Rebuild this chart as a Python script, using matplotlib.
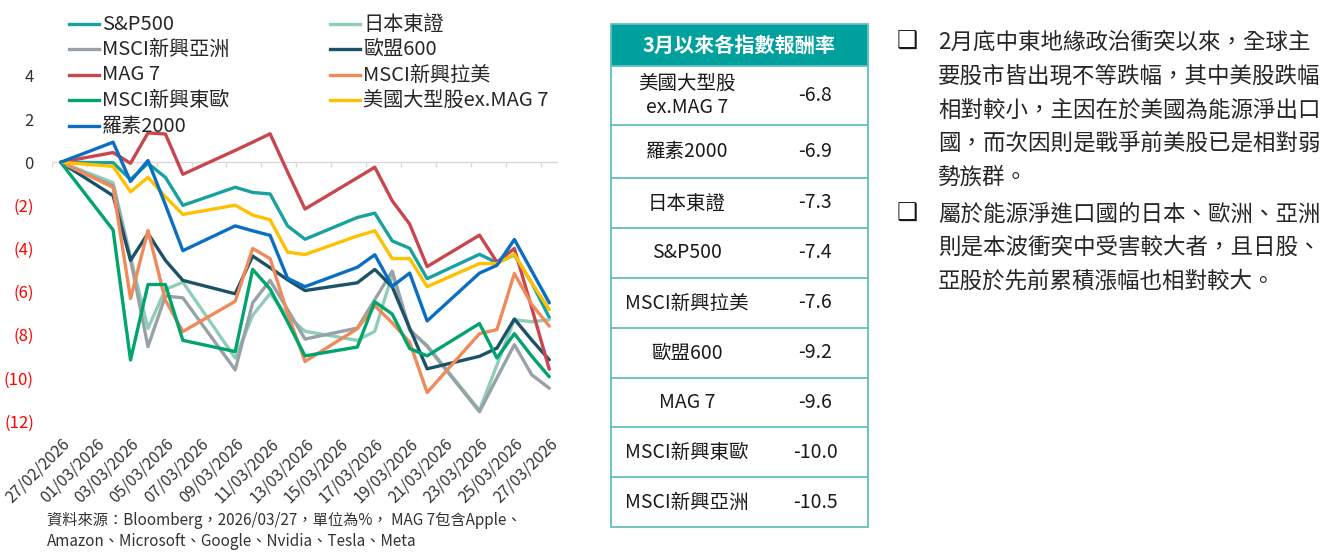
import numpy as np
import matplotlib
matplotlib.use("Agg")
from matplotlib import pyplot as plt
from matplotlib.lines import Line2D
from matplotlib.patches import Rectangle

plt.rcParams['font.family'] = ['Noto Sans CJK TC', 'DejaVu Sans']

# trading days shown in the chart
dates = ["2026-02-27", "2026-03-02", "2026-03-03", "2026-03-04", "2026-03-05",
         "2026-03-06", "2026-03-09", "2026-03-10", "2026-03-11", "2026-03-12",
         "2026-03-13", "2026-03-16", "2026-03-17", "2026-03-18", "2026-03-19",
         "2026-03-20", "2026-03-23", "2026-03-24", "2026-03-25", "2026-03-26",
         "2026-03-27"]

sp500 = [0, -0.02, -0.8, -0.05, -0.7, -2.0, -1.16, -1.4, -1.47, -2.95, -3.57,
         -2.56, -2.36, -3.65, -3.99, -5.4, -4.27, -4.66, -4.3, -5.6, -7.2]
japan = [0, -0.95, -4.4, -7.7, -5.9, -5.56, -9.08, -7.1, -6.09, -7.14, -7.84,
         -8.26, -7.84, -5.2, -7.8, -8.5, -11.5, -9.4, -7.3, -7.4, -7.3]
em_asia = [0, -1.1, -4.5, -8.55, -6.2, -6.29, -9.63, -6.52, -5.48, -6.83, -8.2,
           -7.69, -6.37, -5.05, -7.76, -8.54, -11.57, -10.0, -8.46, -9.86, -10.48]
stoxx600 = [0, -1.55, -4.55, -3.3, -4.55, -5.48, -6.1, -4.35, -4.89, -5.45, -5.95,
            -5.59, -4.97, -5.78, -7.7, -9.58, -9.0, -8.62, -7.27, -8.25, -9.16]
mag7 = [0, 0.45, -0.05, 1.36, 1.31, -0.56, 0.55, 0.93, 1.32, -0.45, -2.17,
        -0.72, -0.23, -1.79, -2.87, -4.84, -3.38, -4.63, -4.0, -6.77, -9.6]
em_latam = [0, -1.16, -6.32, -3.17, -6.4, -7.85, -6.45, -4.0, -4.47, -7.0, -9.24,
            -7.72, -6.65, -7.45, -8.35, -10.68, -7.95, -7.76, -5.16, -6.6, -7.6]
em_eeurope = [0, -3.14, -9.17, -5.67, -5.67, -8.26, -8.78, -4.97, -5.88, -7.4, -8.98,
              -8.57, -6.47, -7.04, -8.64, -8.98, -7.48, -9.08, -7.95, -9.0, -9.95]
us_ex_mag7 = [0, -0.19, -1.37, -0.7, -1.6, -2.42, -1.99, -2.45, -2.67, -4.17, -4.28,
              -3.42, -3.18, -4.47, -4.47, -5.77, -4.7, -4.7, -4.27, -5.6, -6.83]
russell = [0, 0.93, -0.89, 0.08, -1.97, -4.1, -2.95, -3.18, -3.39, -5.38, -5.77,
           -4.87, -4.29, -5.75, -5.14, -7.36, -5.14, -4.78, -3.58, -5.05, -6.52]

series_names = ["S&P500", "日本東證", "MSCI新興亞洲", "歐盟600", "MAG 7",
                "MSCI新興拉美", "MSCI新興東歐", "美國大型股ex.MAG 7", "羅素2000"]
series_values = [sp500, japan, em_asia, stoxx600, mag7,
                 em_latam, em_eeurope, us_ex_mag7, russell]
series_colors = ["#17A2A0", "#8FCDB9", "#97A1A7", "#1B5268", "#C8464D",
                 "#F08A5B", "#00A46C", "#FFC000", "#0A6FC2"]

# table: returns since March
table_names = ["美國大型股\nex.MAG 7", "羅素2000", "日本東證", "S&P500", "MSCI新興拉美",
               "歐盟600", "MAG 7", "MSCI新興東歐", "MSCI新興亞洲"]
table_returns = [-6.8, -6.9, -7.3, -7.4, -7.6, -9.2, -9.6, -10.0, -10.5]
table_title = "3月以來各指數報酬率"

notes = [
    ["2月底中東地緣政治衝突以來，全球主",
     "要股市皆出現不等跌幅，其中美股跌幅",
     "相對較小，主因在於美國為能源淨出口",
     "國，而次因則是戰爭前美股已是相對弱",
     "勢族群。"],
    ["屬於能源淨進口國的日本、歐洲、亞洲",
     "則是本波衝突中受害較大者，且日股、",
     "亞股於先前累積漲幅也相對較大。"],
]
source_text = ("資料來源：Bloomberg，2026/03/27，單位為%， MAG 7包含Apple、\n"
               "Amazon、Microsoft、Google、Nvidia、Tesla、Meta")

W, H = 1331, 552


def fx(x):
    return x / W


def fy(y):
    return 1 - y / H


fig = plt.figure(figsize=(W / 100, H / 100), dpi=100)
ax = fig.add_axes([fx(52), fy(421), fx(558) - fx(52), fy(76) - fy(421)])

start = np.datetime64(dates[0])
days = (np.array(dates, dtype="datetime64[D]") - start).astype(int)

for vals, col in zip(series_values, series_colors):
    ax.plot(days, vals, color=col, lw=2.4, solid_joinstyle="round",
            solid_capstyle="round")

ax.set_xlim(-0.5, 28.5)
ax.set_ylim(-12, 4)
for s in ax.spines.values():
    s.set_visible(False)

# zero line with tick marks every 2 days
ax.axhline(0, color="#D9D9D9", lw=1, zorder=0)
ax.vlines(np.arange(-0.5, 28, 2), -5 / 21.5, 0, color="#D9D9D9", lw=1, zorder=0)

label_days = np.arange(0, 29, 2)
label_dates = start + label_days
tick_labels = [str(d)[8:10] + "/" + str(d)[5:7] + "/" + str(d)[0:4] for d in label_dates]
ax.set_xticks(label_days)
ax.set_xticklabels(tick_labels, rotation=45, ha="right", va="top",
                   rotation_mode="anchor", fontsize=11.5, color="#333333")
ax.tick_params(axis="x", length=0, pad=10)

yt = np.arange(-12, 5, 2)
ax.set_yticks(yt)
ax.set_yticklabels([f"({abs(v)})" if v < 0 else str(v) for v in yt], fontsize=12)
for lab, v in zip(ax.get_yticklabels(), yt):
    lab.set_color("#FF0000" if v < 0 else "#333333")
ax.tick_params(axis="y", length=0, pad=13)

# legend, two columns like the original
col1 = [0, 2, 4, 6, 8]
col2 = [1, 3, 5, 7]
rows_y = [24, 49, 75, 100, 126]
for items, x0 in [(col1, 69), (col2, 330)]:
    for r, i in enumerate(items):
        y = rows_y[r]
        fig.add_artist(Line2D([fx(x0), fx(x0 + 30)], [fy(y), fy(y)],
                              color=series_colors[i], lw=2.4))
        fig.text(fx(x0 + 33), fy(y), series_names[i], fontsize=14.5,
                 va="center", ha="left", color="#262626")

# table
tl, tr = 611, 868
bounds = [24, 66, 125, 178, 228, 278, 328, 378, 427, 477, 527]
edge = "#62C0BE"
fig.add_artist(Rectangle((fx(tl), fy(bounds[1])), fx(tr) - fx(tl), fy(bounds[0]) - fy(bounds[1]),
                         facecolor="#00A19D", edgecolor="none"))
fig.text(fx((tl + tr) / 2), fy(45), table_title, fontsize=14.5, fontweight="bold",
         color="white", ha="center", va="center")
for b in bounds[1:-1]:
    fig.add_artist(Line2D([fx(tl), fx(tr)], [fy(b), fy(b)], color=edge, lw=1.3))
fig.add_artist(Rectangle((fx(tl), fy(bounds[-1])), fx(tr) - fx(tl), fy(bounds[0]) - fy(bounds[-1]),
                         facecolor="none", edgecolor=edge, lw=1.3))
for k, (nm, rv) in enumerate(zip(table_names, table_returns)):
    yc = (bounds[k + 1] + bounds[k + 2]) / 2
    fig.text(fx(687), fy(yc), nm, fontsize=14, ha="center", va="center",
             color="#1A1A1A", linespacing=1.25)
    fig.text(fx(815), fy(yc), f"{rv:.1f}", fontsize=14, ha="center", va="center",
             color="#1A1A1A")

# commentary on the right
line_y = [[42, 76, 110, 143, 177], [214, 247, 281]]
for para, ys in zip(notes, line_y):
    fig.text(fx(907), fy(ys[0]), "\u2751", fontsize=17, ha="center", va="center",
             family=["DejaVu Sans"], color="#1A1A1A")
    for txt, y in zip(para, ys):
        fig.text(fx(938), fy(y), txt, fontsize=16.2, ha="left", va="center",
                 color="#262626")

fig.text(fx(47), fy(531), source_text, fontsize=11, ha="left", va="center",
         color="#333333", linespacing=1.25)

fig.savefig("out.png", dpi=100)
